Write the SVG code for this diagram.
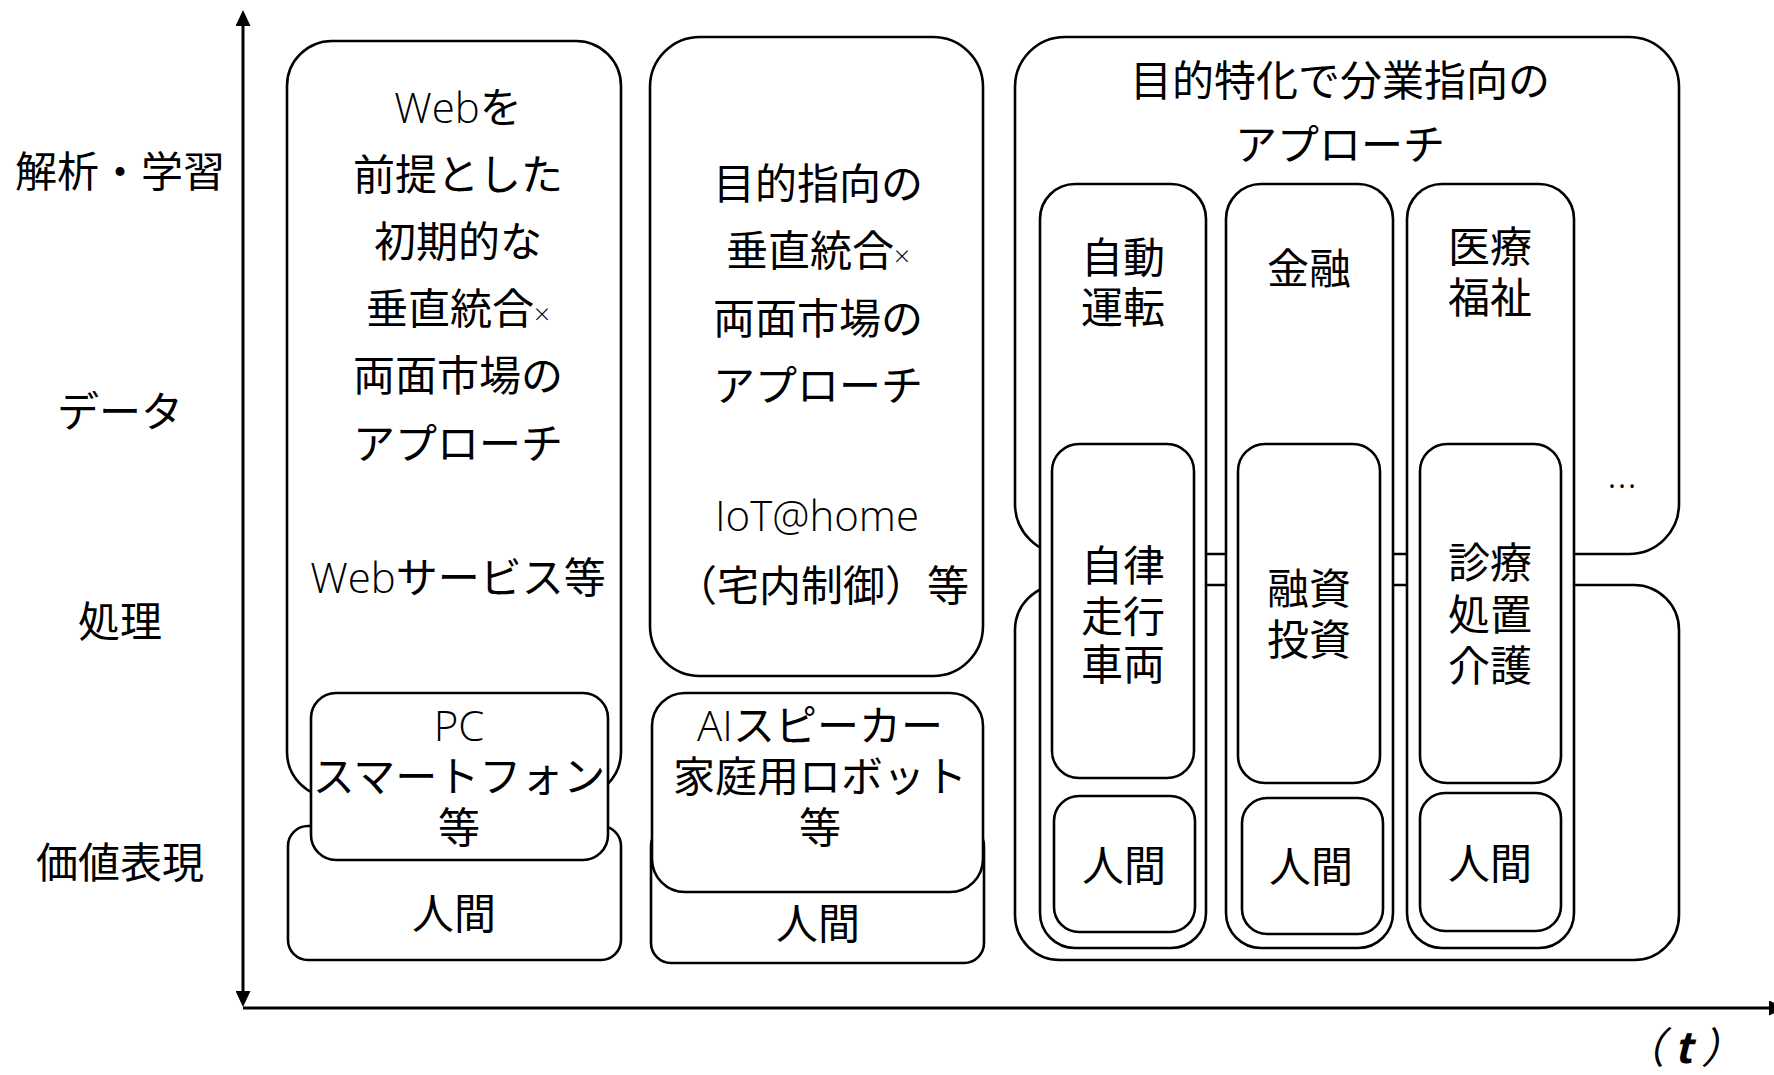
<svg xmlns="http://www.w3.org/2000/svg" width="1774" height="1075" viewBox="0 0 1774 1075">
<style>
.box{fill:#fff;stroke:#000;stroke-width:2.6}
.t{font-family:"Noto Sans CJK JP","Noto Sans CJK SC",sans-serif;font-size:42px;fill:#000;text-anchor:middle}
.lt{font-family:"Open Sans","Lato",sans-serif;font-weight:300}
.axis{stroke:#000;stroke-width:3;fill:none}
</style>
<defs>
<marker id="ah" viewBox="0 0 16 15" markerWidth="16" markerHeight="15" refX="0" refY="7.5" orient="auto-start-reverse" markerUnits="userSpaceOnUse">
<path d="M0,0 L16,7.5 L0,15 Z" fill="#000"/>
</marker>
</defs>
<rect width="1774" height="1075" fill="#fff"/>

<g id="connectors">
<line class="axis" x1="243" y1="26" x2="243" y2="991" marker-start="url(#ah)" marker-end="url(#ah)"/>
<line class="axis" x1="243" y1="1008" x2="1769" y2="1008" marker-end="url(#ah)"/>
</g>

<g id="axis-labels">
<text class="t" x="120" y="187">解析・学習</text>
<text class="t" x="120" y="427">データ</text>
<text class="t" x="120" y="637">処理</text>
<text class="t" x="120" y="878">価値表現</text>
<text class="t" x="1683" y="1063" font-size="36" style="font-style:italic">（ <tspan font-weight="bold">t</tspan> ）</text>
</g>

<g id="web-approach">
<rect class="box" x="287" y="41" width="334" height="756" rx="45"/>
<text class="t" x="458" y="123"><tspan class="lt">Web</tspan>を</text>
<text class="t" x="458" y="190">前提とした</text>
<text class="t" x="458" y="257">初期的な</text>
<text class="t" x="458" y="324">垂直統合<tspan class="lt" font-size="28">×</tspan></text>
<text class="t" x="458" y="391">両面市場の</text>
<text class="t" x="458" y="459">アプローチ</text>
<text class="t" x="458" y="593"><tspan class="lt">Web</tspan>サービス等</text>
</g>

<g id="human-1">
<rect class="box" x="288" y="826" width="333" height="134" rx="20"/>
<text class="t" x="454" y="929">人間</text>
</g>

<g id="pc-smartphone">
<rect class="box" x="311" y="693" width="297" height="167" rx="25"/>
<text class="t" x="459" y="741"><tspan class="lt">PC</tspan></text>
<text class="t" x="459" y="792">スマートフォン</text>
<text class="t" x="459" y="843">等</text>
</g>

<g id="purpose-approach">
<rect class="box" x="650" y="37" width="333" height="639" rx="50"/>
<text class="t" x="818" y="199">目的指向の</text>
<text class="t" x="818" y="266">垂直統合<tspan class="lt" font-size="28">×</tspan></text>
<text class="t" x="818" y="334">両面市場の</text>
<text class="t" x="818" y="401">アプローチ</text>
<text class="t" x="817" y="531" font-size="40"><tspan class="lt">IoT@home</tspan></text>
<text class="t" x="822" y="601">（宅内制御）等</text>
</g>

<g id="human-2">
<rect class="box" x="651" y="826" width="333" height="137" rx="20"/>
<text class="t" x="818" y="939">人間</text>
</g>

<g id="ai-speaker">
<rect class="box" x="652" y="693" width="331" height="199" rx="33"/>
<text class="t" x="820" y="741"><tspan class="lt">AI</tspan>スピーカー</text>
<text class="t" x="820" y="792">家庭用ロボット</text>
<text class="t" x="820" y="843">等</text>
</g>

<g id="specialized-approach">
<rect class="box" x="1015" y="37" width="664" height="517" rx="50"/>
<text class="t" x="1340" y="96">目的特化で分業指向の</text>
<text class="t" x="1340" y="160">アプローチ</text>
<text class="t lt" x="1622" y="488" font-size="20">…</text>
</g>

<g id="specialized-lower">
<rect class="box" x="1015" y="585" width="664" height="375" rx="45"/>
</g>

<g id="col-auto">
<rect class="box" x="1040" y="184" width="166" height="764" rx="35"/>
<text class="t" x="1123" y="273">自動</text>
<text class="t" x="1123" y="323">運転</text>
<rect class="box" x="1052" y="444" width="142" height="334" rx="27"/>
<text class="t" x="1123" y="581">自律</text>
<text class="t" x="1123" y="632">走行</text>
<text class="t" x="1123" y="680">車両</text>
<rect class="box" x="1054" y="796" width="141" height="136" rx="25"/>
<text class="t" x="1124" y="881">人間</text>
</g>

<g id="col-finance">
<rect class="box" x="1226" y="184" width="167" height="764" rx="35"/>
<text class="t" x="1309" y="284">金融</text>
<rect class="box" x="1238" y="444" width="142" height="339" rx="27"/>
<text class="t" x="1309" y="604">融資</text>
<text class="t" x="1309" y="655">投資</text>
<rect class="box" x="1242" y="798" width="141" height="136" rx="25"/>
<text class="t" x="1311" y="882">人間</text>
</g>

<g id="col-medical">
<rect class="box" x="1407" y="184" width="167" height="764" rx="35"/>
<text class="t" x="1490" y="262">医療</text>
<text class="t" x="1490" y="313">福祉</text>
<rect class="box" x="1420" y="444" width="141" height="339" rx="27"/>
<text class="t" x="1490" y="578">診療</text>
<text class="t" x="1490" y="630">処置</text>
<text class="t" x="1490" y="681">介護</text>
<rect class="box" x="1420" y="793" width="141" height="138" rx="25"/>
<text class="t" x="1490" y="879">人間</text>
</g>
</svg>
